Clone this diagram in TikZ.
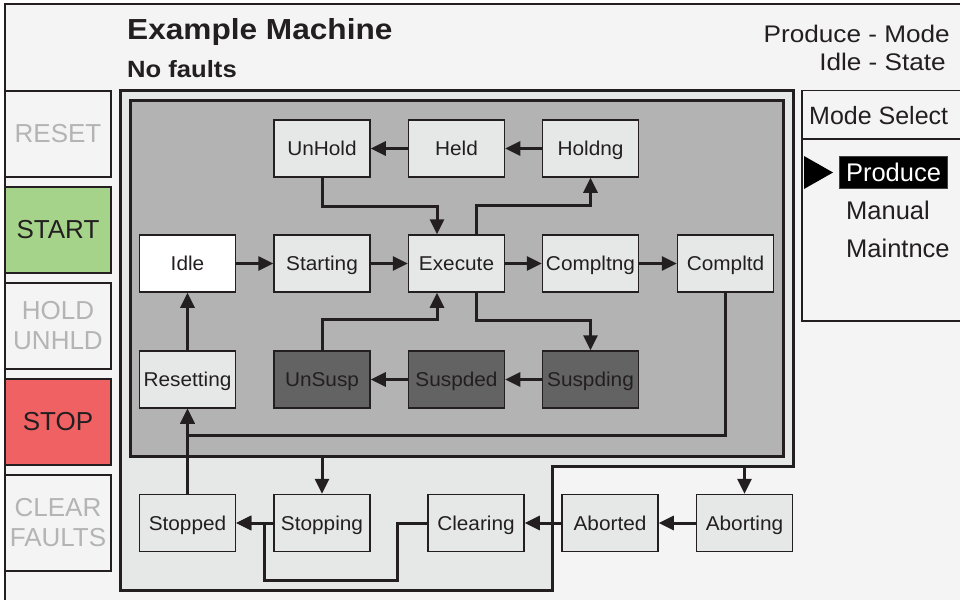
\documentclass[tikz,border=0pt]{standalone}
\usepackage{fontspec}
\setmainfont{Liberation Sans}
\newfontfamily\hdrfont[FakeStretch=1.09]{Liberation Sans}
\newfontfamily\stfont[FakeStretch=1.04]{Liberation Sans}
\usetikzlibrary{arrows.meta,calc}
\definecolor{bg}{HTML}{F4F4F4}
\definecolor{lite}{HTML}{E6E8E8}
\definecolor{mid}{HTML}{B3B3B3}
\definecolor{darkst}{HTML}{636363}
\definecolor{ink}{HTML}{231F20}
\definecolor{btngreen}{HTML}{A6D38A}
\definecolor{btnred}{HTML}{F06163}
\definecolor{dimtext}{HTML}{B4B4B4}
\begin{document}
\begin{tikzpicture}[x=1pt,y=-1pt,
  state/.style={draw=ink, line width=1.5pt, fill=lite, minimum width=96pt, minimum height=57pt,
    inner sep=0pt, font=\stfont\fontsize{20}{24}\selectfont, text=ink, text height=14.3pt, text depth=0pt},
  darkstate/.style={state, fill=darkst},
  conn/.style={draw=ink, line width=3pt, -{Triangle[length=15pt,width=14pt]}},
  plainline/.style={draw=ink, line width=3pt},
  btn/.style={draw=ink, line width=1.5pt, minimum width=106pt, minimum height=86pt, inner sep=0pt,
    font=\fontsize{26}{30}\selectfont, align=center},
  region/.style={draw=ink, line width=3pt},
  menutext/.style={anchor=base west, inner sep=0pt, font=\fontsize{25.5}{30}\selectfont, text=ink}
]
\useasboundingbox (0,0) rectangle (960,599);
% outer frame
\draw[line width=1.5pt, draw=ink, fill=bg] (5,4) rectangle (990,640);

% header texts
\node[anchor=base west, inner sep=0pt, font=\hdrfont\bfseries\fontsize{29}{34}\selectfont, text=ink] (title) at (127,39.3) {Example Machine};
\node[anchor=base west, inner sep=0pt, font=\hdrfont\bfseries\fontsize{23.5}{28}\selectfont, text=ink] (faults) at (127,77.3) {No faults};
\node[anchor=base east, inner sep=0pt, font=\hdrfont\fontsize{24}{28}\selectfont, text=ink] (modeinfo) at (950,42.3) {Produce - Mode};
\node[anchor=base east, inner sep=0pt, font=\hdrfont\fontsize{24}{28}\selectfont, text=ink] (stateinfo) at (946,71) {Idle - State};

% buttons
\node[btn, fill=bg, text=dimtext] (reset) at (58,134) {RESET};
\node[btn, fill=btngreen, text=ink] (start) at (58,230) {START};
\node[btn, fill=bg, text=dimtext] (hold) at (58,326) {HOLD\\UNHLD};
\node[btn, fill=btnred, text=ink] (stop) at (58,422) {STOP};
\node[btn, fill=bg, text=dimtext, minimum height=96pt] (clear) at (58,523) {CLEAR\\FAULTS};

% mode select panel
\draw[line width=1.5pt, draw=ink, fill=bg] (802,90.5) rectangle (990,321);
\draw[line width=1.5pt, draw=ink] (802,139) -- (990,139);
\node[menutext, font=\fontsize{25}{30}\selectfont] (modesel) at (809,124.3) {Mode Select};
\fill[black] (804,156) -- (833,172.5) -- (804,189) -- cycle;
\node[fill=black, draw=black!75, line width=1pt, minimum width=108pt, minimum height=31.5pt, inner sep=0pt,
  text=white, font=\fontsize{25.5}{30}\selectfont, text height=18.3pt, text depth=0pt] (produce) at (893.5,172.5) {Produce};
\node[menutext] (manual) at (846,219.5) {Manual};
\node[menutext] (maint) at (846,257.5) {Maintnce};

% L-shaped outer region
\draw[region, fill=lite] (120,90.5) -- (793,90.5) -- (793,466) -- (552,466) -- (552,590.5) -- (120,590.5) -- cycle;
\coordinate (outerexit) at (744.5,466);
% inner region
\node[region, fill=mid, minimum width=653pt, minimum height=355.5pt, inner sep=0pt] (inner) at (456.5,278.3) {};

% states
\node[state] (unhold) at (322,148.5) {UnHold};
\node[state] (held) at (456.5,148.5) {Held};
\node[state] (holdng) at (590.5,148.5) {Holdng};
\node[state, fill=white] (idle) at (187.5,263.5) {Idle};
\node[state] (starting) at (322,263.5) {Starting};
\node[state] (execute) at (456.5,263.5) {Execute};
\node[state] (compltng) at (590.5,263.5) {Compltng};
\node[state] (compltd) at (725.5,263.5) {Compltd};
\node[state] (resetting) at (187.5,379.5) {Resetting};
\node[darkstate] (unsusp) at (322,379.5) {UnSusp};
\node[darkstate] (suspded) at (456.5,379.5) {Suspded};
\node[darkstate] (suspding) at (590.5,379.5) {Suspding};
\node[state] (stopped) at (187.5,523) {Stopped};
\node[state] (stopping) at (322,523) {Stopping};
\node[state] (clearing) at (476,523) {Clearing};
\node[state] (aborted) at (610,523) {Aborted};
\node[state] (aborting) at (744.5,523) {Aborting};

% connectors
\draw[conn] (idle) -- (starting);
\draw[conn] (starting) -- (execute);
\draw[conn] (execute) -- (compltng);
\draw[conn] (compltng) -- (compltd);
\draw[conn] (holdng) -- (held);
\draw[conn] (held) -- (unhold);
\draw[conn] (suspding) -- (suspded);
\draw[conn] (suspded) -- (unsusp);
\draw[conn] (unhold.south) -- ++(0,29) -| ([xshift=-19.5pt]execute.north);
\draw[conn] ([xshift=19.5pt]execute.north) -- ++(0,-29) -| (holdng.south);
\draw[conn] ([xshift=19.5pt]execute.south) -- ++(0,28) -| (suspding.north);
\draw[conn] (unsusp.north) -- ++(0,-31) -| ([xshift=-19.5pt]execute.south);
\draw[conn] (compltd.south) -- ++(0,143) -| (resetting.south);
\draw[conn] (resetting) -- (idle);
\draw[conn] (stopped) -- (resetting);
\draw[conn] (inner.south -| stopping.north) -- (stopping.north);
\draw[conn] (outerexit) -- (aborting.north);
\draw[conn] (aborting) -- (aborted);
\draw[conn] (aborted) -- (clearing);
\coordinate (merge) at ([xshift=28.5pt]stopped.east);
\draw[conn] (clearing.west) -- ++(-29.5,0) -- ++(0,57) -| (merge) -- (stopped.east);
\draw[conn] (stopping) -- (stopped);
\end{tikzpicture}
\end{document}
